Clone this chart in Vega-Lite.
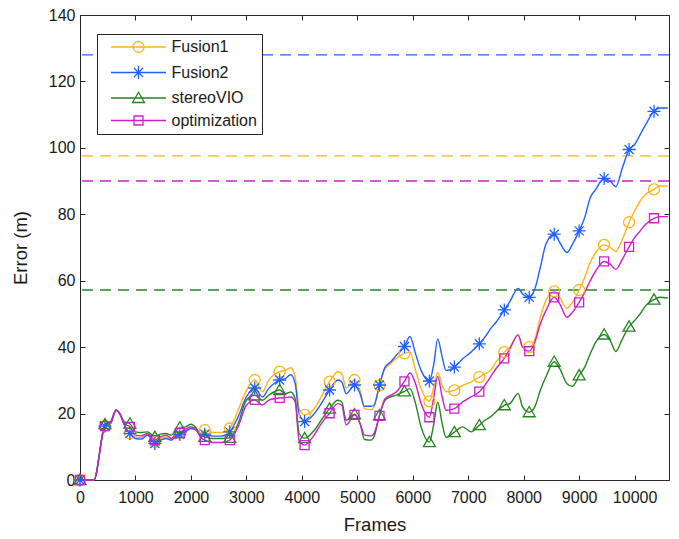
{
"$schema": "https://vega.github.io/schema/vega-lite/v6.json",
"width": 589, "height": 465,
"autosize": {"type": "none"},
"padding": {"left": 80, "top": 15, "right": 10, "bottom": 59},
"background": "white",
"config": {
 "font": "Liberation Sans",
 "view": {"stroke": "#262626", "strokeWidth": 1},
 "axis": {"grid": false, "domain": false, "labelFlush": false, "tickColor": "#262626", "tickSize": -5, "tickWidth": 1, "labelColor": "#1a1a1a", "labelFontSize": 16, "labelFont": "Liberation Sans", "titleFont": "Liberation Sans", "titleFontSize": 18.5, "titleFontWeight": "normal", "titleColor": "#1a1a1a"},
 "axisX": {"labelPadding": 14},
 "axisY": {"labelPadding": 10},
 "legend": {
  "orient": "none", "legendX": 17, "legendY": 19, "title": null,
  "labelFontSize": 16, "labelFont": "Liberation Sans", "labelColor": "#1a1a1a",
  "symbolSize": 100, "symbolStrokeWidth": 1.3, "symbolOffset": 28.5, "labelOffset": 25,
  "rowPadding": 6.5, "padding": 5, "strokeColor": "#262626", "fillColor": "white"
 }
},
"datasets": {
 "d": [
  {"f":0,"Fusion1":0,"Fusion2":0,"stereoVIO":0,"optimization":0,"m":1},
  {"f":150,"Fusion1":0,"Fusion2":0,"stereoVIO":0,"optimization":0},
  {"f":250,"Fusion1":0,"Fusion2":0,"stereoVIO":0,"optimization":0},
  {"f":450,"Fusion1":16.3,"Fusion2":16.2,"stereoVIO":16.8,"optimization":16.2,"m":1},
  {"f":550,"Fusion1":17,"Fusion2":17,"stereoVIO":17.5,"optimization":17},
  {"f":650,"Fusion1":21,"Fusion2":21,"stereoVIO":21.2,"optimization":21},
  {"f":720,"Fusion1":19.8,"Fusion2":19.8,"stereoVIO":20,"optimization":19.8},
  {"f":800,"Fusion1":16.5,"Fusion2":16.5,"stereoVIO":17.5,"optimization":17},
  {"f":900,"Fusion1":14,"Fusion2":14,"stereoVIO":17,"optimization":16,"m":1},
  {"f":1000,"Fusion1":13,"Fusion2":12.5,"stereoVIO":14.5,"optimization":13.5},
  {"f":1100,"Fusion1":12.8,"Fusion2":12.3,"stereoVIO":14.3,"optimization":13.3},
  {"f":1220,"Fusion1":13.8,"Fusion2":13.5,"stereoVIO":14.5,"optimization":14},
  {"f":1300,"Fusion1":12.5,"Fusion2":12,"stereoVIO":13.5,"optimization":12.8},
  {"f":1350,"Fusion1":11.5,"Fusion2":11,"stereoVIO":13,"optimization":12,"m":1},
  {"f":1450,"Fusion1":12.5,"Fusion2":12,"stereoVIO":13.8,"optimization":13},
  {"f":1550,"Fusion1":13,"Fusion2":12.5,"stereoVIO":14,"optimization":13.5},
  {"f":1650,"Fusion1":12.3,"Fusion2":12,"stereoVIO":13.5,"optimization":12.5},
  {"f":1700,"Fusion1":13,"Fusion2":12.7,"stereoVIO":14.3,"optimization":13.3},
  {"f":1800,"Fusion1":14,"Fusion2":13.7,"stereoVIO":15.8,"optimization":14.2,"m":1},
  {"f":1900,"Fusion1":15,"Fusion2":14.5,"stereoVIO":16,"optimization":15.3},
  {"f":2000,"Fusion1":16,"Fusion2":15.5,"stereoVIO":16.8,"optimization":16},
  {"f":2100,"Fusion1":15.5,"Fusion2":15,"stereoVIO":15.5,"optimization":15},
  {"f":2170,"Fusion1":14,"Fusion2":13.5,"stereoVIO":13.5,"optimization":13},
  {"f":2250,"Fusion1":15,"Fusion2":13.8,"stereoVIO":13,"optimization":12,"m":1},
  {"f":2400,"Fusion1":14.3,"Fusion2":13.2,"stereoVIO":12.5,"optimization":11.3},
  {"f":2550,"Fusion1":14.3,"Fusion2":13.2,"stereoVIO":12.5,"optimization":11.3},
  {"f":2700,"Fusion1":15.5,"Fusion2":14.5,"stereoVIO":12.7,"optimization":12,"m":1},
  {"f":2850,"Fusion1":21,"Fusion2":19,"stereoVIO":17,"optimization":16},
  {"f":3000,"Fusion1":27,"Fusion2":25,"stereoVIO":24,"optimization":22.5},
  {"f":3150,"Fusion1":30.1,"Fusion2":27.7,"stereoVIO":25.5,"optimization":24.1,"m":1},
  {"f":3290,"Fusion1":26.6,"Fusion2":25,"stereoVIO":24,"optimization":22.6},
  {"f":3400,"Fusion1":30,"Fusion2":27.5,"stereoVIO":25.5,"optimization":24},
  {"f":3600,"Fusion1":32.6,"Fusion2":30.1,"stereoVIO":27.1,"optimization":24.7,"m":1},
  {"f":3700,"Fusion1":33,"Fusion2":30.5,"stereoVIO":26,"optimization":24.8},
  {"f":3800,"Fusion1":33.8,"Fusion2":31.7,"stereoVIO":26.5,"optimization":25},
  {"f":3880,"Fusion1":31,"Fusion2":29,"stereoVIO":24.5,"optimization":23.5},
  {"f":3950,"Fusion1":21.5,"Fusion2":20,"stereoVIO":14,"optimization":12},
  {"f":4050,"Fusion1":19.6,"Fusion2":17.6,"stereoVIO":12.6,"optimization":10.5,"m":1},
  {"f":4200,"Fusion1":21,"Fusion2":19.5,"stereoVIO":14.5,"optimization":13},
  {"f":4350,"Fusion1":25,"Fusion2":23,"stereoVIO":18,"optimization":17},
  {"f":4500,"Fusion1":29.6,"Fusion2":27.1,"stereoVIO":21.5,"optimization":20.1,"m":1},
  {"f":4650,"Fusion1":32.6,"Fusion2":30.1,"stereoVIO":24,"optimization":23},
  {"f":4720,"Fusion1":32,"Fusion2":29.5,"stereoVIO":23.5,"optimization":22.5},
  {"f":4800,"Fusion1":27.7,"Fusion2":26,"stereoVIO":18,"optimization":16.6},
  {"f":4950,"Fusion1":30.1,"Fusion2":28.6,"stereoVIO":19.8,"optimization":19.6,"m":1},
  {"f":5050,"Fusion1":27,"Fusion2":26,"stereoVIO":17,"optimization":17},
  {"f":5130,"Fusion1":21.5,"Fusion2":22.2,"stereoVIO":12.2,"optimization":13.5},
  {"f":5250,"Fusion1":21.2,"Fusion2":22.2,"stereoVIO":12,"optimization":13.3},
  {"f":5300,"Fusion1":22,"Fusion2":22.5,"stereoVIO":13,"optimization":14},
  {"f":5400,"Fusion1":28.5,"Fusion2":28.6,"stereoVIO":19.5,"optimization":19.3,"m":1},
  {"f":5500,"Fusion1":33.5,"Fusion2":34,"stereoVIO":24,"optimization":24.5},
  {"f":5600,"Fusion1":35,"Fusion2":35.5,"stereoVIO":25,"optimization":25.5},
  {"f":5700,"Fusion1":36.5,"Fusion2":37.5,"stereoVIO":25.5,"optimization":26.5},
  {"f":5850,"Fusion1":38.1,"Fusion2":40.2,"stereoVIO":26.7,"optimization":29.7,"m":1},
  {"f":5950,"Fusion1":38.5,"Fusion2":43.2,"stereoVIO":27.5,"optimization":32.2},
  {"f":6050,"Fusion1":33,"Fusion2":38,"stereoVIO":23,"optimization":29},
  {"f":6150,"Fusion1":27.5,"Fusion2":33,"stereoVIO":16,"optimization":23},
  {"f":6300,"Fusion1":23.7,"Fusion2":29.8,"stereoVIO":11.4,"optimization":18.9,"m":1},
  {"f":6380,"Fusion1":28,"Fusion2":35,"stereoVIO":17,"optimization":25},
  {"f":6450,"Fusion1":32.4,"Fusion2":42.5,"stereoVIO":23.4,"optimization":31.2},
  {"f":6530,"Fusion1":28.5,"Fusion2":37,"stereoVIO":17,"optimization":25},
  {"f":6600,"Fusion1":26.6,"Fusion2":33,"stereoVIO":12.8,"optimization":21},
  {"f":6750,"Fusion1":27,"Fusion2":34,"stereoVIO":14.4,"optimization":21.5,"m":1},
  {"f":6900,"Fusion1":28.5,"Fusion2":36.5,"stereoVIO":16,"optimization":23.5},
  {"f":7050,"Fusion1":29.5,"Fusion2":38.5,"stereoVIO":14.5,"optimization":25},
  {"f":7200,"Fusion1":31,"Fusion2":41,"stereoVIO":16.5,"optimization":26.6,"m":1},
  {"f":7300,"Fusion1":32,"Fusion2":43,"stereoVIO":18,"optimization":28.5},
  {"f":7400,"Fusion1":33,"Fusion2":45.5,"stereoVIO":19,"optimization":31},
  {"f":7500,"Fusion1":35.5,"Fusion2":47.5,"stereoVIO":20.5,"optimization":33.5},
  {"f":7650,"Fusion1":38.5,"Fusion2":51.2,"stereoVIO":22.5,"optimization":36.6,"m":1},
  {"f":7750,"Fusion1":40,"Fusion2":53.7,"stereoVIO":23,"optimization":39.5},
  {"f":7900,"Fusion1":43.7,"Fusion2":57.7,"stereoVIO":26,"optimization":43.7},
  {"f":7980,"Fusion1":40,"Fusion2":56,"stereoVIO":22,"optimization":40},
  {"f":8100,"Fusion1":40,"Fusion2":55,"stereoVIO":20.4,"optimization":38.8,"m":1},
  {"f":8200,"Fusion1":42.2,"Fusion2":57.5,"stereoVIO":22,"optimization":41.5},
  {"f":8300,"Fusion1":49,"Fusion2":64,"stereoVIO":27,"optimization":47},
  {"f":8400,"Fusion1":54,"Fusion2":71,"stereoVIO":31,"optimization":51},
  {"f":8550,"Fusion1":56.8,"Fusion2":74,"stereoVIO":35.6,"optimization":55,"m":1},
  {"f":8650,"Fusion1":55,"Fusion2":71.5,"stereoVIO":33.5,"optimization":53},
  {"f":8780,"Fusion1":51.7,"Fusion2":68.5,"stereoVIO":29,"optimization":49},
  {"f":8880,"Fusion1":53.5,"Fusion2":71,"stereoVIO":28.2,"optimization":50.5},
  {"f":9000,"Fusion1":57.2,"Fusion2":75,"stereoVIO":31.5,"optimization":53.5,"m":1},
  {"f":9100,"Fusion1":61,"Fusion2":79,"stereoVIO":34,"optimization":56.5},
  {"f":9200,"Fusion1":65.5,"Fusion2":85,"stereoVIO":38,"optimization":60},
  {"f":9300,"Fusion1":68.5,"Fusion2":87.5,"stereoVIO":41.5,"optimization":63},
  {"f":9450,"Fusion1":70.8,"Fusion2":90.8,"stereoVIO":43.8,"optimization":65.8,"m":1},
  {"f":9560,"Fusion1":70,"Fusion2":90,"stereoVIO":42,"optimization":65},
  {"f":9660,"Fusion1":68.8,"Fusion2":88.3,"stereoVIO":38.7,"optimization":63.4},
  {"f":9780,"Fusion1":72.5,"Fusion2":94,"stereoVIO":42.5,"optimization":66.5},
  {"f":9900,"Fusion1":77.6,"Fusion2":99.5,"stereoVIO":46.2,"optimization":70.2,"m":1},
  {"f":10000,"Fusion1":81,"Fusion2":101,"stereoVIO":48,"optimization":73},
  {"f":10100,"Fusion1":84,"Fusion2":104,"stereoVIO":50,"optimization":75},
  {"f":10200,"Fusion1":86,"Fusion2":107,"stereoVIO":52.5,"optimization":77},
  {"f":10350,"Fusion1":87.5,"Fusion2":111,"stereoVIO":54.3,"optimization":78.8,"m":1},
  {"f":10450,"Fusion1":88.5,"Fusion2":112,"stereoVIO":55,"optimization":79.3},
  {"f":10600,"Fusion1":88.5,"Fusion2":112,"stereoVIO":54.8,"optimization":79.3}
 ],
 "thr": [
  {"s":"Fusion2","e":128},
  {"s":"Fusion1","e":97.6},
  {"s":"optimization","e":90},
  {"s":"stereoVIO","e":57.2}
 ]
},
"resolve": {"scale": {"x": "independent", "y": "independent"}},
"layer": [
 {
  "data": {"name": "thr"},
  "mark": {"type": "rule", "strokeDash": [11, 7], "strokeWidth": 1.4},
  "encoding": {
   "y": {"field": "e", "type": "quantitative", "scale": {"domain": [0, 140], "nice": false}, "axis": null},
   "color": {"field": "s", "type": "nominal", "scale": {"domain": ["Fusion1", "Fusion2", "stereoVIO", "optimization"], "range": ["#FDB515", "#2060FF", "#23861E", "#CC1FCC"]}}
  }
 },
 {
  "data": {"name": "d"},
  "transform": [{"fold": ["Fusion1", "Fusion2", "stereoVIO", "optimization"], "as": ["s", "e"]}],
  "mark": {"type": "line", "interpolate": "monotone", "strokeWidth": 1.4},
  "encoding": {
   "x": {"field": "f", "type": "quantitative", "scale": {"domain": [0, 10620], "nice": false}, "axis": {"values": [0,1000,2000,3000,4000,5000,6000,7000,8000,9000,10000], "format": "d", "title": "Frames", "titlePadding": 10}},
   "y": {"field": "e", "type": "quantitative", "scale": {"domain": [0, 140], "nice": false}, "axis": {"values": [0,20,40,60,80,100,120,140], "title": "Error (m)", "titlePadding": 18}},
   "color": {"field": "s", "type": "nominal", "scale": {"domain": ["Fusion1", "Fusion2", "stereoVIO", "optimization"], "range": ["#FDB515", "#2060FF", "#23861E", "#CC1FCC"]},
    "legend": {
     "encode": {"symbols": {"update": {
       "fill": {"value": "transparent"},
       "strokeWidth": {"value": 1.3},
       "shape": {"signal": "datum.value === 'Fusion1' ? 'M-5.5,0L5.5,0M1.1,0A1.1,1.1 0 1,1 -1.1,0A1.1,1.1 0 1,1 1.1,0' : datum.value === 'Fusion2' ? 'M-5.5,0L5.5,0M0,-1.3L0,1.3M-0.9,-0.9L0.9,0.9M-0.9,0.9L0.9,-0.9' : datum.value === 'stereoVIO' ? 'M-5.5,0L5.5,0M0,-1.15L1.2,0.9L-1.2,0.9Z' : 'M-5.5,0L5.5,0M-0.9,-0.9L0.9,-0.9L0.9,0.9L-0.9,0.9Z'"}
     }}}
    }}
  }
 },
 {
  "data": {"name": "d"},
  "transform": [{"fold": ["Fusion1", "Fusion2", "stereoVIO", "optimization"], "as": ["s", "e"]}, {"filter": "datum.m === 1 && datum.s === 'Fusion1'"}],
  "mark": {"type": "point", "filled": false, "strokeWidth": 1.3, "size": 100, "opacity": 1, "color": "#FDB515", "shape": "M1.1,0A1.1,1.1 0 1,1 -1.1,0A1.1,1.1 0 1,1 1.1,0"},
  "encoding": {
   "x": {"field": "f", "type": "quantitative", "scale": {"domain": [0, 10620], "nice": false}, "axis": null},
   "y": {"field": "e", "type": "quantitative", "scale": {"domain": [0, 140], "nice": false}, "axis": null}
  }
 },
 {
  "data": {"name": "d"},
  "transform": [{"fold": ["Fusion1", "Fusion2", "stereoVIO", "optimization"], "as": ["s", "e"]}, {"filter": "datum.m === 1 && datum.s === 'Fusion2'"}],
  "mark": {"type": "point", "filled": false, "strokeWidth": 1.3, "size": 100, "opacity": 1, "color": "#2060FF", "shape": "M-1.3,0L1.3,0M0,-1.3L0,1.3M-0.9,-0.9L0.9,0.9M-0.9,0.9L0.9,-0.9"},
  "encoding": {
   "x": {"field": "f", "type": "quantitative", "scale": {"domain": [0, 10620], "nice": false}, "axis": null},
   "y": {"field": "e", "type": "quantitative", "scale": {"domain": [0, 140], "nice": false}, "axis": null}
  }
 },
 {
  "data": {"name": "d"},
  "transform": [{"fold": ["Fusion1", "Fusion2", "stereoVIO", "optimization"], "as": ["s", "e"]}, {"filter": "datum.m === 1 && datum.s === 'stereoVIO'"}],
  "mark": {"type": "point", "filled": false, "strokeWidth": 1.3, "size": 100, "opacity": 1, "color": "#23861E", "shape": "M0,-1.15L1.2,0.9L-1.2,0.9Z"},
  "encoding": {
   "x": {"field": "f", "type": "quantitative", "scale": {"domain": [0, 10620], "nice": false}, "axis": null},
   "y": {"field": "e", "type": "quantitative", "scale": {"domain": [0, 140], "nice": false}, "axis": null}
  }
 },
 {
  "data": {"name": "d"},
  "transform": [{"fold": ["Fusion1", "Fusion2", "stereoVIO", "optimization"], "as": ["s", "e"]}, {"filter": "datum.m === 1 && datum.s === 'optimization'"}],
  "mark": {"type": "point", "filled": false, "strokeWidth": 1.3, "size": 100, "opacity": 1, "color": "#CC1FCC", "shape": "M-0.9,-0.9L0.9,-0.9L0.9,0.9L-0.9,0.9Z"},
  "encoding": {
   "x": {"field": "f", "type": "quantitative", "scale": {"domain": [0, 10620], "nice": false}, "axis": null},
   "y": {"field": "e", "type": "quantitative", "scale": {"domain": [0, 140], "nice": false}, "axis": null}
  }
 },
 {
  "data": {"name": "d"},
  "mark": {"type": "point", "opacity": 0},
  "encoding": {
   "x": {"field": "f", "type": "quantitative", "scale": {"domain": [0, 10620], "nice": false}, "axis": {"orient": "top", "values": [0,1000,2000,3000,4000,5000,6000,7000,8000,9000,10000], "labels": false, "title": null}},
   "y": {"field": "Fusion1", "type": "quantitative", "scale": {"domain": [0, 140], "nice": false}, "axis": {"orient": "right", "values": [0,20,40,60,80,100,120,140], "labels": false, "title": null}}
  }
 }
]
}
